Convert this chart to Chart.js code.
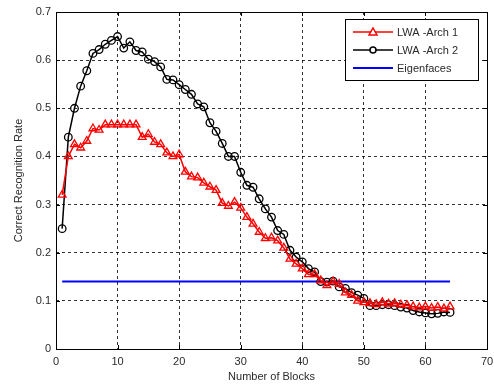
<!DOCTYPE html>
<html>
<head>
<meta charset="utf-8">
<script src="https://cdn.jsdelivr.net/npm/chart.js@4"></script>
<style>
html, body { margin: 0; padding: 0; background: #fff; }
</style>
</head>
<body>
<canvas id="chart" width="494" height="385"></canvas>
<script>
var blocks = [];
for (var i = 1; i <= 64; i++) blocks.push(i);

var arch1 = [0.32, 0.40, 0.425, 0.418, 0.432, 0.458, 0.455, 0.466, 0.466, 0.466,
  0.466, 0.466, 0.466, 0.44, 0.446, 0.43, 0.425, 0.408, 0.40, 0.404,
  0.368, 0.358, 0.356, 0.345, 0.337, 0.33, 0.303, 0.297, 0.305, 0.293,
  0.274, 0.26, 0.243, 0.23, 0.231, 0.225, 0.21, 0.187, 0.177, 0.167,
  0.155, 0.155, 0.142, 0.132, 0.14, 0.135, 0.117, 0.112, 0.10, 0.097,
  0.095, 0.093, 0.097, 0.094, 0.095, 0.092, 0.091, 0.088, 0.086, 0.088,
  0.085, 0.087, 0.084, 0.088];

var arch2 = [0.25, 0.44, 0.50, 0.546, 0.578, 0.614, 0.622, 0.633, 0.641, 0.649,
  0.625, 0.638, 0.62, 0.617, 0.602, 0.597, 0.586, 0.56, 0.559, 0.549,
  0.539, 0.529, 0.509, 0.503, 0.47, 0.452, 0.427, 0.40, 0.40, 0.367,
  0.34, 0.336, 0.312, 0.291, 0.274, 0.246, 0.238, 0.205, 0.191, 0.181,
  0.167, 0.16, 0.14, 0.139, 0.141, 0.129, 0.126, 0.117, 0.112, 0.105,
  0.09, 0.09, 0.092, 0.092, 0.09, 0.087, 0.085, 0.08, 0.077, 0.075,
  0.073, 0.074, 0.077, 0.076];

var eigenX = [1, 64];
var eigenY = [0.14, 0.14];

var xTicks = [0, 10, 20, 30, 40, 50, 60, 70];
var yTicks = [0, 0.1, 0.2, 0.3, 0.4, 0.5, 0.6, 0.7];

var font = "'Liberation Sans', Arial, sans-serif";
var textColor = "#2a2a2a";

var toPoints = function (xs, ys) {
  return xs.map(function (x, k) { return { x: x, y: ys[k] }; });
};

// axes box with inward ticks, like matlab
var frame = {
  id: "frame",
  beforeDatasetsDraw: function (chart) {
    var ctx = chart.ctx, a = chart.chartArea;
    var xs = chart.scales.x, ys = chart.scales.y;
    ctx.save();
    ctx.strokeStyle = "#000";
    ctx.lineWidth = 1;
    ctx.setLineDash([]);
    ctx.strokeRect(Math.round(a.left) + 0.5, Math.round(a.top) + 0.5,
      Math.round(a.right - a.left), Math.round(a.bottom - a.top));
    ctx.beginPath();
    xTicks.forEach(function (v) {
      var px = Math.round(xs.getPixelForValue(v)) + 0.5;
      ctx.moveTo(px, a.bottom); ctx.lineTo(px, a.bottom - 4);
      ctx.moveTo(px, a.top); ctx.lineTo(px, a.top + 4);
    });
    yTicks.forEach(function (v) {
      var py = Math.round(ys.getPixelForValue(v)) + 0.5;
      ctx.moveTo(a.left, py); ctx.lineTo(a.left + 4, py);
      ctx.moveTo(a.right, py); ctx.lineTo(a.right - 4, py);
    });
    ctx.stroke();
    ctx.restore();
  }
};

var legendBox = {
  id: "legendBox",
  afterDraw: function (chart) {
    var ctx = chart.ctx;
    var x0 = 345.5, y0 = 19.5, w = 133, h = 61;
    ctx.save();
    ctx.fillStyle = "#fff";
    ctx.fillRect(x0, y0, w, h);
    ctx.strokeStyle = "#000";
    ctx.lineWidth = 1;
    ctx.strokeRect(x0, y0, w, h);
    ctx.font = "11px " + font;
    ctx.textBaseline = "middle";
    var rows = [32, 50, 68];
    chart.data.datasets.forEach(function (ds, k) {
      var y = rows[k];
      ctx.strokeStyle = ds.borderColor;
      ctx.lineWidth = ds.borderWidth;
      ctx.beginPath();
      ctx.moveTo(353, y); ctx.lineTo(393, y);
      ctx.stroke();
      if (ds.pointRadius > 0) {
        ctx.lineWidth = 1.5;
        ctx.beginPath();
        if (ds.pointStyle === "triangle") {
          ctx.moveTo(373, y - 4); ctx.lineTo(377, y + 3); ctx.lineTo(369, y + 3); ctx.closePath();
          ctx.fillStyle = "#fff"; ctx.fill();
        } else {
          ctx.arc(373, y, 3, 0, Math.PI * 2);
          ctx.fillStyle = "#fff"; ctx.fill();
        }
        ctx.stroke();
      }
      ctx.fillStyle = textColor;
      ctx.fillText(ds.label, 397, y + 1);
    });
    ctx.restore();
  }
};

var ctx = document.getElementById("chart").getContext("2d");
var chart = new Chart(ctx, {
  type: "line",
  data: {
    datasets: [
      {
        label: "LWA -Arch 1",
        data: toPoints(blocks, arch1),
        borderColor: "#ff0000",
        borderWidth: 1.5,
        pointStyle: "triangle",
        pointRadius: 4.5,
        pointBorderWidth: 1.3,
        pointBorderColor: "#ff0000",
        pointBackgroundColor: "rgba(255,255,255,0)",
        tension: 0
      },
      {
        label: "LWA -Arch 2",
        data: toPoints(blocks, arch2),
        borderColor: "#000000",
        borderWidth: 1.5,
        pointStyle: "circle",
        pointRadius: 3.8,
        pointBorderWidth: 1.3,
        pointBorderColor: "#000000",
        pointBackgroundColor: "rgba(255,255,255,0)",
        tension: 0
      },
      {
        label: "Eigenfaces",
        data: toPoints(eigenX, eigenY),
        borderColor: "#0000ff",
        borderWidth: 2,
        pointRadius: 0,
        tension: 0
      }
    ]
  },
  plugins: [frame, legendBox],
  options: {
    responsive: false,
    animation: false,
    layout: { padding: { top: 12, right: 7, left: 0, bottom: 0 } },
    plugins: {
      legend: { display: false },
      tooltip: { enabled: false }
    },
    scales: {
      x: {
        type: "linear",
        min: 0,
        max: 70,
        afterFit: function (s) { s.height = 36; s.paddingLeft = 0; s.paddingRight = 0; },
        afterBuildTicks: function (s) { s.ticks = xTicks.map(function (v) { return { value: v }; }); },
        ticks: { color: textColor, padding: 6, maxRotation: 0, font: { family: font, size: 11 } },
        grid: { color: "rgba(0,0,0,0.8)", lineWidth: 1, drawTicks: false },
        border: { display: false, dash: [3, 3] },
        title: {
          display: true,
          text: "Number of Blocks",
          color: textColor,
          font: { family: font, size: 11 },
          padding: { top: 0, bottom: 1 }
        }
      },
      y: {
        type: "linear",
        min: 0,
        max: 0.7,
        afterFit: function (s) { s.width = 56; s.paddingTop = 0; s.paddingBottom = 0; },
        afterBuildTicks: function (s) { s.ticks = yTicks.map(function (v) { return { value: v }; }); },
        ticks: {
          color: textColor,
          padding: 5,
          font: { family: font, size: 11 },
          callback: function (v) { return String(Math.round(v * 10) / 10); }
        },
        grid: { color: "rgba(0,0,0,0.8)", lineWidth: 1, drawTicks: false },
        border: { display: false, dash: [3, 3] },
        title: {
          display: true,
          text: "Correct Recognition Rate",
          color: textColor,
          font: { family: font, size: 11 },
          padding: { top: 12, bottom: 0 }
        }
      }
    }
  }
});
</script>
</body>
</html>
